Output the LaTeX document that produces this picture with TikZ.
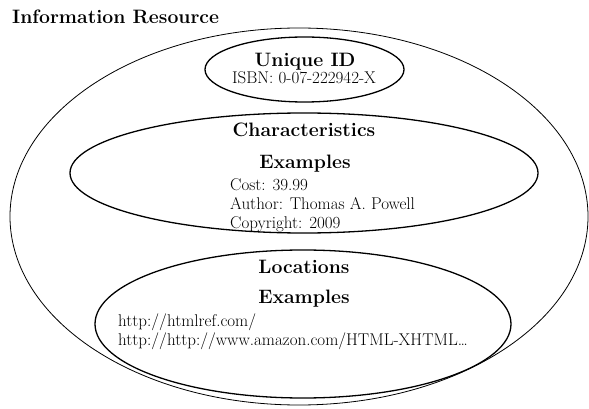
\documentclass[tikz,border=0pt]{standalone}
\usepackage{tikz}
\usetikzlibrary{shapes.geometric}

\begin{document}
\begin{tikzpicture}[
  x=1pt, y=-1pt,
  ell/.style={draw, ellipse, inner sep=0pt, line width=1.3pt},
  outer/.style={draw, ellipse, inner sep=0pt, line width=0.8pt},
  hd/.style={font=\bfseries\fontsize{19.4}{22}\selectfont, inner sep=0pt, anchor=base},
  tx/.style={font=\fontsize{17}{19}\selectfont, align=left, inner sep=0pt, anchor=north west}
]
\useasboundingbox (0,0) rectangle (589,409);
% ellipses
\node[outer, minimum width=578pt, minimum height=377pt] (resource) at (299,216.5) {};
\node[ell, minimum width=199pt, minimum height=65pt] (uid) at (304.5,69.5) {};
\node[ell, minimum width=468pt, minimum height=120pt] (chars) at (304,173) {};
\node[ell, minimum width=416pt, minimum height=148pt] (locs) at (303,324) {};
% labels
\node[hd, anchor=base west] (title) at (12,24) {Information Resource};
\node[hd] (uidhd) at (305,67) {Unique ID};
\node[font=\fontsize{17}{19}\selectfont, inner sep=0pt, anchor=base] (isbn) at (304,84) {ISBN: 0-07-222942-X};
\node[hd] (charshd) at (304,137) {Characteristics};
\node[hd] (charsex) at (305,168) {Examples};
\node[tx] (charslist) at (230,178.4)
  {Cost: 39.99\\Author: Thomas A. Powell\\Copyright: 2009};
\node[hd] (locshd) at (304,273) {Locations};
\node[hd] (locsex) at (304,303) {Examples};
\node[tx] (locslist) at (118,313.2)
  {http://htmlref.com/\\http://http://www.amazon.com/HTML-XHTML\dots};
\end{tikzpicture}
\end{document}
